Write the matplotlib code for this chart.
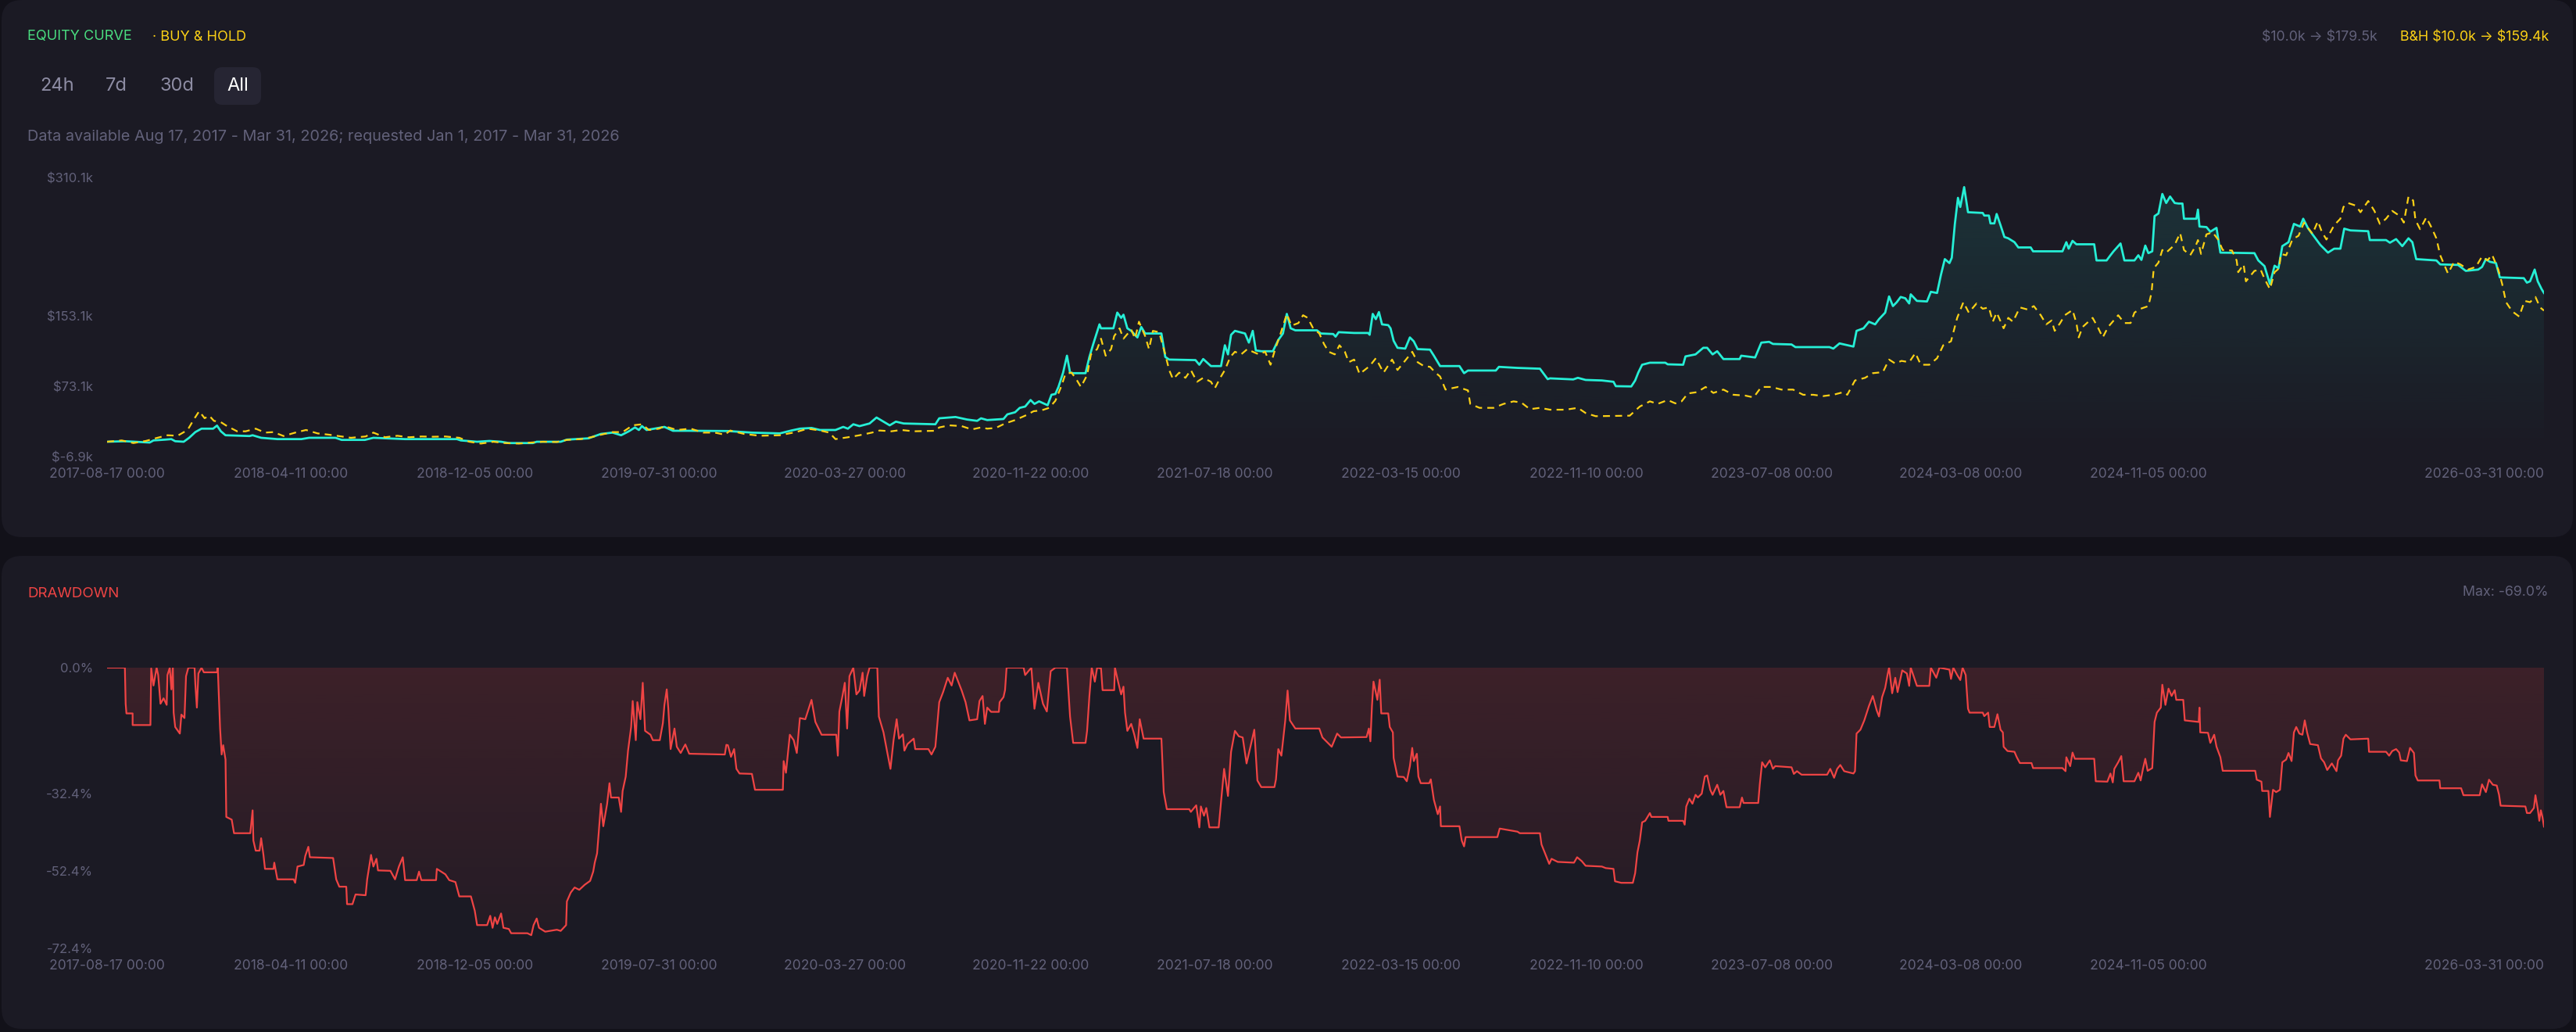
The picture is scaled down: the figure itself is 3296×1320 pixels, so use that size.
import numpy as np
import matplotlib
matplotlib.use('Agg')
import matplotlib.pyplot as plt
import matplotlib.colors as mcolors
import matplotlib.dates as mdates
from matplotlib.patches import FancyBboxPatch

plt.rcParams['font.family'] = ['Inter', 'DejaVu Sans']

START = np.datetime64('2017-08-17')
END = np.datetime64('2026-03-31')

# (days since start, equity in $k)
eq_points = [
    (0, 10.0), (23, 10.6), (55, 9.1), (60, 11.5), (75, 12.4), (83, 13.0), (88, 10.6), (99, 10.0),
    (106, 14.5), (114, 21.0), (122, 24.9), (137, 24.9), (142, 28.4), (147, 21.9), (153, 17.4),
    (184, 16.5), (188, 17.4), (199, 14.5), (220, 13.0), (251, 13.0), (261, 14.5), (295, 14.5),
    (303, 12.1), (333, 12.1), (344, 14.5), (385, 13.0), (452, 13.0), (457, 11.5), (478, 10.0),
    (494, 10.9), (509, 10.0), (519, 8.5), (550, 8.5), (555, 10.0), (586, 10.0), (594, 12.4),
    (622, 13.9), (638, 18.9), (653, 20.4), (664, 17.4), (674, 21.9), (682, 26.3), (687, 23.4),
    (691, 27.8), (697, 23.4), (720, 26.9), (731, 22.5), (752, 22.5), (802, 22.2), (833, 20.4),
    (869, 19.5), (884, 22.8), (895, 24.9), (910, 25.7), (921, 23.4), (941, 23.4), (951, 26.9),
    (957, 24.9), (964, 29.9), (972, 27.8), (985, 30.8), (994, 37.6), (1003, 32.9), (1011, 28.7),
    (1019, 32.9), (1029, 30.8), (1070, 29.9), (1075, 36.7), (1096, 38.2), (1111, 35.3),
    (1124, 33.8), (1129, 36.7), (1137, 34.7), (1158, 35.9), (1163, 41.2), (1173, 43.6),
    (1179, 48.6), (1186, 50.1), (1193, 57.5), (1198, 53.1), (1204, 56.0), (1215, 51.6),
    (1220, 63.5), (1225, 64.4), (1229, 72.4), (1235, 88.7), (1240, 108.0), (1244, 88.7),
    (1248, 88.1), (1264, 88.1), (1269, 106.6), (1274, 121.4), (1282, 143.7), (1284, 139.2),
    (1300, 139.2), (1305, 157.1), (1310, 151.1), (1313, 154.7), (1318, 139.2), (1323, 136.3),
    (1331, 128.8), (1336, 140.7), (1341, 133.3), (1362, 133.3), (1367, 106.6), (1372, 103.6),
    (1406, 103.0), (1411, 97.7), (1416, 104.2), (1426, 96.2), (1439, 96.2), (1444, 119.9),
    (1448, 109.5), (1452, 131.8), (1457, 136.3), (1470, 133.3), (1475, 122.9), (1480, 136.3),
    (1484, 114.0), (1491, 113.1), (1506, 113.1), (1513, 125.9), (1519, 133.3), (1524, 155.6),
    (1529, 139.2), (1535, 136.9), (1563, 136.9), (1568, 133.3), (1584, 132.7), (1587, 129.7),
    (1591, 134.8), (1611, 133.9), (1629, 133.9), (1631, 131.8), (1635, 155.6), (1639, 149.6),
    (1643, 157.7), (1647, 143.7), (1655, 142.8), (1658, 139.2), (1662, 125.0), (1667, 117.0),
    (1677, 116.1), (1683, 128.8), (1688, 124.4), (1693, 115.5), (1709, 114.9), (1714, 108.0),
    (1722, 96.2), (1747, 96.2), (1753, 88.1), (1758, 91.1), (1794, 91.1), (1798, 95.3),
    (1822, 94.1), (1851, 93.2), (1856, 87.2), (1861, 81.3), (1864, 82.2), (1894, 81.0),
    (1900, 82.8), (1910, 80.4), (1931, 79.8), (1946, 78.3), (1949, 73.3), (1969, 73.0),
    (1974, 79.8), (1978, 88.7), (1983, 97.7), (1993, 100.0), (2013, 100.0), (2016, 98.2),
    (2036, 97.7), (2039, 107.2), (2052, 109.5), (2062, 117.0), (2067, 117.0), (2074, 109.5),
    (2080, 113.1), (2088, 104.2), (2109, 104.2), (2111, 108.0), (2129, 106.0), (2137, 122.9),
    (2147, 123.8), (2152, 121.4), (2176, 120.8), (2181, 117.8), (2225, 117.8), (2230, 116.1),
    (2238, 122.0), (2256, 118.4), (2260, 136.3), (2269, 139.2), (2276, 146.7), (2284, 143.7),
    (2289, 149.6), (2297, 157.1), (2302, 175.5), (2307, 164.5), (2312, 169.0), (2317, 174.9),
    (2323, 173.4), (2328, 167.5), (2330, 177.9), (2338, 170.4), (2351, 169.8), (2356, 180.8),
    (2364, 179.4), (2369, 200.1), (2374, 218.0), (2380, 213.5), (2383, 219.5), (2387, 258.1),
    (2391, 287.8), (2394, 277.4), (2399, 300.0), (2404, 271.4), (2423, 270.6), (2425, 267.6),
    (2431, 267.6), (2433, 258.7), (2438, 258.7), (2441, 269.4), (2446, 256.6), (2451, 243.2),
    (2456, 241.7), (2464, 237.3), (2469, 231.3), (2485, 231.3), (2488, 226.9), (2526, 226.9),
    (2531, 237.3), (2534, 229.9), (2539, 238.8), (2544, 234.9), (2567, 234.9), (2570, 216.5),
    (2583, 216.5), (2588, 222.4), (2592, 226.9), (2601, 235.8), (2606, 216.5), (2619, 216.5),
    (2624, 222.4), (2628, 217.1), (2633, 233.4), (2637, 224.8), (2642, 226.9), (2645, 267.0),
    (2650, 270.0), (2655, 292.2), (2660, 281.9), (2665, 289.3), (2671, 281.9), (2676, 281.3),
    (2681, 281.3), (2683, 264.0), (2699, 264.0), (2701, 274.4), (2703, 255.1), (2712, 254.5),
    (2717, 249.2), (2725, 253.6), (2730, 225.4), (2774, 224.8), (2779, 216.5), (2787, 210.0),
    (2794, 189.7), (2800, 210.5), (2805, 207.6), (2810, 232.8), (2818, 237.3), (2825, 258.1),
    (2833, 255.1), (2837, 264.0), (2843, 253.6), (2849, 246.2), (2859, 234.3), (2869, 225.4),
    (2877, 229.9), (2885, 229.9), (2890, 252.7), (2898, 250.7), (2921, 249.8), (2923, 239.7),
    (2944, 239.7), (2949, 236.7), (2957, 240.8), (2965, 232.8), (2973, 241.7), (2978, 237.3),
    (2983, 218.0), (3009, 216.5), (3014, 212.0), (3037, 211.4), (3047, 204.6), (3063, 206.1),
    (3068, 209.1), (3073, 218.0), (3078, 215.0), (3086, 213.5), (3091, 197.2), (3122, 196.3),
    (3126, 191.2), (3130, 192.7), (3136, 206.1), (3140, 192.7), (3145, 183.8), (3148, 179.5),
]

# (days since start, buy & hold in $k)
bh_points = [
    (0, 10.0), (19, 11.5), (34, 8.5), (50, 10.9), (65, 14.5), (78, 17.4), (91, 16.8), (104, 23.4),
    (112, 35.3), (119, 44.8), (126, 36.8), (132, 39.7), (138, 33.8), (147, 32.3), (155, 27.8),
    (168, 21.9), (179, 21.9), (192, 24.9), (204, 20.4), (215, 21.0), (228, 16.5), (243, 20.4),
    (257, 23.4), (272, 19.5), (287, 18.0), (303, 16.0), (315, 14.5), (334, 16.0), (344, 20.4),
    (359, 15.1), (375, 16.8), (390, 15.1), (406, 16.0), (421, 15.7), (437, 16.0), (455, 14.5),
    (468, 10.0), (483, 7.9), (499, 10.0), (514, 8.5), (532, 7.9), (548, 9.1), (563, 10.0),
    (581, 9.7), (594, 12.1), (612, 13.0), (625, 15.1), (638, 18.0), (653, 21.0), (666, 21.0),
    (679, 28.7), (691, 29.9), (700, 23.4), (713, 24.9), (720, 27.8), (736, 23.4), (754, 24.9),
    (770, 20.4), (785, 20.4), (798, 18.0), (805, 22.8), (823, 18.9), (843, 16.8), (869, 17.4),
    (890, 21.0), (905, 24.9), (921, 22.8), (933, 20.4), (941, 13.0), (957, 15.1), (972, 17.4),
    (988, 20.4), (998, 22.8), (1013, 21.9), (1026, 23.4), (1042, 21.9), (1070, 22.5),
    (1075, 26.3), (1088, 28.7), (1104, 27.8), (1117, 24.0), (1129, 26.3), (1137, 24.9),
    (1148, 25.7), (1160, 30.8), (1173, 34.7), (1186, 39.7), (1197, 44.8), (1207, 45.7),
    (1217, 48.6), (1225, 56.6), (1233, 73.9), (1238, 87.2), (1246, 88.7), (1253, 79.8),
    (1258, 72.4), (1266, 85.8), (1271, 109.5), (1279, 115.5), (1284, 127.4), (1290, 108.0),
    (1297, 115.5), (1301, 130.3), (1308, 139.2), (1313, 127.4), (1323, 137.8), (1328, 127.4),
    (1333, 146.7), (1341, 130.3), (1346, 115.5), (1351, 136.3), (1359, 134.8), (1367, 109.5),
    (1372, 91.7), (1377, 81.3), (1385, 88.7), (1393, 82.8), (1400, 91.7), (1408, 78.3),
    (1416, 82.8), (1426, 78.3), (1431, 70.9), (1438, 82.8), (1444, 91.7), (1451, 106.6),
    (1457, 112.5), (1465, 109.5), (1473, 115.5), (1480, 112.5), (1488, 109.5), (1496, 112.5),
    (1503, 97.7), (1509, 115.5), (1516, 133.3), (1524, 155.6), (1530, 142.2), (1539, 145.2),
    (1545, 154.1), (1551, 151.1), (1558, 139.2), (1566, 133.3), (1572, 121.4), (1578, 112.5),
    (1586, 109.5), (1592, 119.9), (1599, 112.5), (1604, 100.6), (1611, 103.6), (1618, 87.2),
    (1631, 96.2), (1639, 105.1), (1649, 88.7), (1660, 103.6), (1667, 91.7), (1678, 103.6),
    (1686, 112.5), (1693, 100.6), (1701, 96.2), (1709, 95.3), (1716, 88.7), (1722, 84.3),
    (1729, 69.4), (1745, 72.4), (1758, 68.5), (1761, 53.1), (1773, 48.6), (1791, 48.6),
    (1804, 53.1), (1817, 56.0), (1827, 54.6), (1838, 47.1), (1851, 48.6), (1864, 46.5),
    (1884, 46.5), (1900, 48.6), (1910, 42.7), (1923, 39.1), (1967, 39.7), (1980, 50.1),
    (1993, 56.0), (2003, 53.1), (2016, 57.5), (2026, 53.7), (2034, 56.0), (2042, 65.0),
    (2054, 66.5), (2065, 72.4), (2075, 65.6), (2088, 69.4), (2101, 63.5), (2116, 62.6),
    (2127, 60.5), (2137, 72.4), (2150, 72.4), (2163, 69.4), (2178, 69.4), (2191, 63.5),
    (2204, 63.5), (2217, 62.0), (2230, 63.5), (2243, 66.5), (2248, 63.5), (2258, 79.8),
    (2271, 82.8), (2281, 88.1), (2294, 89.3), (2302, 103.6), (2310, 99.1), (2318, 102.1),
    (2328, 100.6), (2336, 111.0), (2343, 97.7), (2354, 97.7), (2364, 105.1), (2372, 119.9),
    (2382, 124.4), (2390, 151.1), (2398, 169.0), (2405, 157.1), (2415, 167.5), (2423, 161.5),
    (2431, 163.0), (2436, 146.7), (2441, 157.1), (2450, 139.2), (2456, 151.1), (2462, 146.7),
    (2471, 163.0), (2481, 160.6), (2489, 164.5), (2498, 154.1), (2505, 143.7), (2512, 148.1),
    (2516, 136.3), (2523, 145.2), (2529, 154.1), (2539, 160.0), (2544, 145.2), (2547, 128.8),
    (2552, 140.7), (2565, 151.1), (2572, 139.8), (2578, 128.8), (2585, 140.7), (2598, 154.1),
    (2606, 145.2), (2614, 145.2), (2619, 157.1), (2627, 161.5), (2637, 164.5), (2641, 179.4),
    (2644, 207.6), (2650, 214.1), (2655, 228.4), (2660, 225.4), (2671, 234.3), (2678, 247.7),
    (2683, 228.4), (2691, 222.4), (2698, 232.8), (2701, 239.7), (2705, 223.9), (2712, 246.2),
    (2720, 248.6), (2727, 240.3), (2733, 228.4), (2745, 227.8), (2751, 216.5), (2753, 203.1),
    (2760, 212.0), (2763, 192.7), (2774, 204.6), (2782, 206.1), (2787, 195.7), (2794, 183.8),
    (2800, 203.1), (2806, 207.6), (2808, 223.9), (2815, 222.4), (2823, 240.3), (2831, 244.7),
    (2838, 259.6), (2843, 253.6), (2849, 246.8), (2856, 261.1), (2861, 249.2), (2867, 240.3),
    (2877, 256.6), (2885, 264.0), (2889, 277.4), (2895, 281.9), (2905, 278.9), (2911, 271.4),
    (2921, 284.2), (2929, 272.9), (2936, 258.1), (2944, 264.0), (2952, 272.9), (2962, 267.0),
    (2967, 259.6), (2973, 289.3), (2979, 284.8), (2982, 262.5), (2988, 252.1), (2996, 265.5),
    (3003, 253.6), (3009, 241.7), (3014, 222.4), (3019, 212.0), (3024, 201.6), (3032, 215.0),
    (3040, 212.0), (3050, 206.1), (3060, 209.1), (3068, 221.0), (3075, 216.5), (3081, 223.0),
    (3089, 206.1), (3094, 189.7), (3099, 169.0), (3107, 158.5), (3116, 152.6), (3123, 170.4),
    (3130, 169.0), (3137, 174.9), (3143, 163.0), (3148, 159.4),
]

# (days since start, drawdown in %)
dd_points = [
    (0, 0.0), (23, 0.0), (24, -9.3), (25, -11.8), (33, -11.8), (33, -14.8), (56, -14.8),
    (57, -0.2), (60, -4.6), (64, 0.0), (66, -1.9), (69, -9.3), (73, -7.9), (77, -9.6), (78, -1.9),
    (81, 0.0), (83, -5.6), (85, 0.0), (86, -11.6), (88, -15.3), (94, -17.0), (96, -12.1),
    (100, -13.0), (102, -2.2), (105, 0.0), (113, 0.0), (114, -4.2), (116, -10.3), (118, -1.5),
    (122, 0.0), (125, -1.2), (142, -1.2), (143, 0.0), (144, -5.2), (146, -15.7), (148, -22.4),
    (150, -20.0), (153, -23.7), (154, -38.5), (161, -39.2), (164, -42.7), (185, -42.7),
    (188, -36.8), (189, -44.6), (192, -47.2), (197, -47.2), (199, -44.0), (202, -48.3),
    (204, -51.9), (215, -51.9), (216, -50.3), (220, -54.6), (241, -54.6), (243, -55.5),
    (246, -51.3), (254, -50.9), (256, -48.6), (260, -46.2), (262, -48.9), (292, -49.1),
    (296, -54.6), (300, -56.5), (309, -56.5), (310, -61.0), (317, -61.0), (321, -58.5),
    (334, -58.7), (336, -54.6), (341, -48.3), (344, -51.3), (348, -49.3), (350, -52.3),
    (366, -52.4), (372, -54.6), (377, -51.3), (382, -48.9), (385, -54.8), (400, -54.8),
    (403, -52.6), (406, -54.8), (425, -54.8), (426, -51.9), (437, -53.3), (442, -54.8),
    (450, -55.3), (455, -59.0), (470, -59.0), (475, -62.7), (478, -66.4), (491, -66.4),
    (495, -64.0), (498, -67.1), (501, -64.4), (504, -66.1), (509, -63.4), (512, -67.1),
    (519, -67.4), (522, -68.5), (543, -68.5), (548, -69.0), (551, -66.4), (555, -64.7),
    (558, -67.1), (566, -68.1), (581, -67.6), (586, -67.9), (593, -66.4), (594, -60.3),
    (599, -58.0), (604, -56.7), (610, -57.3), (617, -56.0), (624, -55.0), (628, -52.6),
    (630, -50.3), (633, -47.9), (635, -42.9), (638, -35.1), (641, -40.9), (646, -35.1),
    (649, -29.8), (651, -33.5), (661, -33.5), (664, -37.2), (666, -31.8), (670, -28.1),
    (673, -21.4), (677, -15.3), (679, -8.6), (683, -18.7), (685, -8.9), (689, -13.3),
    (692, -3.9), (695, -16.3), (702, -17.3), (705, -18.7), (714, -18.7), (718, -14.3),
    (720, -9.6), (723, -5.6), (725, -10.5), (728, -21.0), (733, -15.7), (736, -20.4),
    (741, -22.0), (747, -19.8), (752, -22.2), (798, -22.4), (800, -19.9), (802, -20.0),
    (806, -23.0), (810, -21.0), (813, -26.1), (817, -27.3), (833, -27.4), (837, -31.5),
    (873, -31.5), (874, -24.1), (877, -27.1), (882, -17.3), (887, -18.7), (891, -22.0),
    (895, -13.0), (902, -13.3), (910, -8.3), (915, -14.0), (923, -17.3), (942, -17.3),
    (944, -22.7), (946, -11.3), (950, -7.3), (953, -3.9), (956, -15.7), (959, -2.2), (964, 0.0),
    (968, -6.9), (972, -5.9), (976, -1.3), (978, -7.3), (982, -2.2), (985, 0.0), (995, 0.0),
    (997, -12.6), (1003, -16.7), (1008, -22.0), (1012, -26.1), (1016, -18.7), (1020, -13.3),
    (1023, -18.3), (1028, -17.2), (1030, -21.4), (1034, -19.7), (1042, -18.3), (1044, -21.0),
    (1061, -21.0), (1065, -22.4), (1070, -20.4), (1075, -8.9), (1080, -6.3), (1086, -2.6),
    (1091, -4.6), (1095, -1.3), (1104, -5.9), (1109, -8.9), (1114, -13.6), (1124, -13.3),
    (1127, -8.6), (1131, -7.3), (1134, -14.5), (1137, -10.3), (1142, -11.4), (1152, -11.4),
    (1153, -8.9), (1158, -7.6), (1160, -5.8), (1162, 0.0), (1184, 0.0), (1186, -1.9),
    (1194, 0.0), (1198, -10.6), (1203, -3.9), (1209, -9.3), (1214, -11.3), (1219, -0.9),
    (1225, 0.0), (1240, 0.0), (1244, -12.6), (1248, -19.4), (1264, -19.4), (1266, -16.3),
    (1269, -7.3), (1272, 0.0), (1276, -3.6), (1279, 0.0), (1284, -0.2), (1286, -5.8),
    (1301, -5.8), (1302, 0.0), (1306, -3.6), (1310, -6.9), (1313, -4.9), (1315, -11.6),
    (1318, -16.3), (1323, -14.5), (1327, -17.3), (1331, -20.7), (1334, -13.3), (1339, -18.3),
    (1362, -18.3), (1365, -32.1), (1369, -36.5), (1398, -36.5), (1400, -37.2), (1407, -35.5),
    (1411, -41.2), (1413, -35.8), (1417, -38.2), (1420, -36.2), (1424, -41.2), (1436, -41.2),
    (1439, -34.8), (1443, -26.1), (1448, -33.1), (1452, -21.7), (1457, -16.3), (1462, -17.7),
    (1467, -18.0), (1472, -24.7), (1477, -20.4), (1482, -16.0), (1486, -29.1), (1491, -30.8),
    (1508, -30.8), (1510, -28.8), (1513, -21.0), (1517, -22.7), (1522, -13.6), (1525, -5.9),
    (1528, -13.6), (1535, -15.7), (1566, -15.7), (1570, -18.0), (1582, -20.4), (1589, -17.0),
    (1594, -18.0), (1627, -17.9), (1630, -15.7), (1632, -19.0), (1634, -9.9), (1636, -3.6),
    (1641, -8.3), (1644, -3.1), (1646, -11.8), (1655, -11.8), (1657, -15.3), (1661, -16.7),
    (1662, -23.3), (1667, -28.1), (1675, -28.2), (1679, -29.3), (1683, -25.4), (1686, -20.7),
    (1688, -24.1), (1692, -22.2), (1694, -28.1), (1697, -29.8), (1708, -29.8), (1710, -28.8),
    (1714, -34.1), (1719, -37.8), (1722, -35.8), (1723, -40.9), (1747, -40.9), (1750, -44.6),
    (1753, -46.1), (1755, -43.7), (1796, -43.7), (1799, -41.5), (1822, -42.3), (1825, -42.7),
    (1851, -42.7), (1853, -45.6), (1857, -47.6), (1863, -50.6), (1866, -49.3), (1874, -50.1),
    (1895, -50.3), (1899, -48.9), (1905, -49.9), (1910, -51.1), (1931, -51.3), (1936, -51.7),
    (1946, -51.9), (1948, -55.1), (1956, -55.5), (1971, -55.5), (1974, -53.0), (1977, -47.6),
    (1980, -44.6), (1983, -39.9), (1987, -39.5), (1993, -37.5), (1995, -38.5), (2016, -38.5),
    (2017, -39.5), (2036, -39.5), (2038, -40.5), (2040, -35.8), (2044, -33.8), (2048, -35.1),
    (2052, -32.8), (2055, -33.5), (2060, -32.5), (2064, -28.1), (2067, -27.8), (2071, -31.5),
    (2074, -32.8), (2080, -30.2), (2084, -32.8), (2088, -31.8), (2092, -36.0), (2109, -36.0),
    (2112, -33.5), (2114, -34.9), (2133, -34.9), (2135, -30.1), (2138, -24.4), (2142, -25.7),
    (2148, -23.9), (2152, -26.1), (2155, -25.4), (2176, -25.7), (2179, -27.4), (2183, -26.7),
    (2189, -27.6), (2222, -27.6), (2226, -26.1), (2231, -28.4), (2235, -26.1), (2239, -25.1),
    (2244, -26.7), (2256, -27.3), (2258, -26.7), (2260, -17.0), (2265, -16.0), (2270, -13.6),
    (2276, -9.9), (2281, -7.3), (2286, -11.0), (2289, -12.6), (2293, -7.6), (2297, -5.2),
    (2300, -1.9), (2302, 0.0), (2306, -6.6), (2310, -2.6), (2313, -6.3), (2319, -0.7),
    (2325, -1.5), (2328, -4.7), (2330, 0.0), (2338, -4.7), (2354, -4.7), (2356, 0.0),
    (2363, -2.6), (2367, 0.0), (2380, -0.5), (2382, -2.9), (2385, 0.0), (2390, -1.9),
    (2394, -3.2), (2397, 0.0), (2401, -1.9), (2404, -10.6), (2406, -11.6), (2423, -11.6),
    (2425, -12.5), (2430, -11.6), (2432, -15.3), (2438, -15.3), (2442, -12.0), (2446, -16.0),
    (2449, -16.7), (2450, -20.4), (2455, -21.5), (2464, -21.7), (2467, -23.1), (2471, -24.6),
    (2486, -24.6), (2488, -25.9), (2526, -25.9), (2530, -26.7), (2531, -23.1), (2536, -25.4),
    (2539, -21.9), (2542, -23.5), (2567, -23.5), (2569, -29.3), (2584, -29.4), (2588, -27.3),
    (2591, -29.6), (2593, -26.1), (2598, -24.4), (2602, -22.8), (2605, -29.3), (2619, -29.3),
    (2624, -27.1), (2627, -29.1), (2630, -26.1), (2633, -23.5), (2636, -26.6), (2642, -25.9),
    (2645, -14.0), (2648, -11.6), (2653, -10.3), (2655, -4.4), (2659, -9.6), (2663, -5.4),
    (2667, -7.3), (2671, -5.8), (2673, -8.3), (2682, -8.3), (2684, -13.6), (2702, -14.0),
    (2703, -10.3), (2704, -16.7), (2714, -16.8), (2717, -19.4), (2722, -17.3), (2725, -20.4),
    (2730, -23.1), (2733, -26.6), (2775, -26.6), (2777, -28.9), (2783, -29.4), (2784, -31.8),
    (2792, -31.8), (2794, -38.5), (2798, -31.5), (2802, -32.1), (2807, -31.5), (2810, -24.4),
    (2815, -23.7), (2818, -22.0), (2822, -24.1), (2825, -16.7), (2828, -15.3), (2832, -17.0),
    (2836, -17.3), (2839, -13.6), (2842, -16.7), (2846, -19.7), (2856, -20.0), (2860, -23.4),
    (2864, -24.4), (2868, -26.4), (2874, -24.7), (2880, -26.7), (2882, -23.9), (2886, -22.7),
    (2889, -18.3), (2892, -17.3), (2898, -18.5), (2921, -18.3), (2922, -21.7), (2944, -21.7),
    (2948, -22.7), (2952, -21.5), (2957, -21.0), (2961, -21.9), (2963, -23.9), (2971, -24.1),
    (2975, -20.7), (2980, -22.0), (2982, -27.8), (2985, -29.1), (3013, -29.1), (3014, -31.1),
    (3041, -31.1), (3044, -32.9), (3065, -32.9), (3068, -30.1), (3073, -32.1), (3077, -28.9),
    (3082, -30.2), (3087, -30.4), (3090, -32.8), (3092, -35.6), (3124, -35.8), (3126, -37.5),
    (3130, -37.5), (3135, -36.2), (3137, -32.9), (3140, -36.5), (3142, -39.5), (3144, -36.8),
    (3146, -38.5), (3148, -41.0),
]

tick_dates = ['2017-08-17', '2018-04-11', '2018-12-05', '2019-07-31', '2020-03-27',
              '2020-11-22', '2021-07-18', '2022-03-15', '2022-11-10', '2023-07-08',
              '2024-03-08', '2024-11-05', '2026-03-31']
eq_ticks = [-6.9, 73.1, 153.1, 310.1]
dd_ticks = [-72.4, -52.4, -32.4, 0.0]

OUTER = '#121119'
PANEL = '#1b1a24'
CYAN = '#26efd6'
GOLD = '#fcd116'
RED = '#ef4444'
MUTED = '#62617a'


def to_dates(points):
    d = np.array([p[0] for p in points]).astype('timedelta64[D]')
    v = np.array([p[1] for p in points], dtype=float)
    return START + d, v


def grad_fill(ax, x, y, base, color, a_top, a_bot, ylo, yhi):
    coll = ax.fill_between(x, y, base, facecolor='none', edgecolor='none')
    path = coll.get_paths()[0]
    rgb = mcolors.to_rgb(color)
    img = np.zeros((256, 1, 4))
    img[:, 0, :3] = rgb
    img[:, 0, 3] = np.linspace(a_top, a_bot, 256)
    x0, x1 = mdates.date2num(START), mdates.date2num(END)
    im = ax.imshow(img, aspect='auto', extent=[x0, x1, ylo, yhi], origin='upper', zorder=1)
    im.set_clip_path(path, transform=ax.transData)


def style_axis(ax, ticks, labels):
    for s in ax.spines.values():
        s.set_visible(False)
    ax.set_facecolor('none')
    ax.set_xlim(START, END)
    ax.set_xticks([np.datetime64(t) for t in tick_dates])
    ax.set_xticklabels([t + ' 00:00' for t in tick_dates])
    ax.get_xticklabels()[-1].set_horizontalalignment('right')
    ax.set_yticks(ticks)
    ax.set_yticklabels(labels)
    ax.tick_params(axis='both', length=0, labelcolor=MUTED)
    ax.tick_params(axis='x', pad=10, labelsize=12.6)
    ax.tick_params(axis='y', pad=13, labelsize=12)


fig = plt.figure(figsize=(32.96, 13.2), dpi=100, facecolor=OUTER)

# background panels, drawn in pixel units
bg = fig.add_axes([0, 0, 1, 1], zorder=0)
bg.set_xlim(0, 3296)
bg.set_ylim(1320, 0)
bg.axis('off')
bg.add_patch(FancyBboxPatch((2, 0), 3290, 687, boxstyle='round,pad=0,rounding_size=26',
                            fc=PANEL, ec='none'))
bg.add_patch(FancyBboxPatch((2, 711), 3290, 605, boxstyle='round,pad=0,rounding_size=26',
                            fc=PANEL, ec='none'))

bg.text(35, 47, 'EQUITY CURVE', color='#4ade80', fontsize=13, va='center')
bg.text(195, 47, '· BUY & HOLD', color=GOLD, fontsize=13, va='center')
bg.text(3261, 48, 'B&H \\$10.0k → \\$159.4k', color=GOLD, fontsize=12.8, va='center', ha='right')
bg.text(3042, 48, '\\$10.0k → \\$179.5k', color=MUTED, fontsize=12.8, va='center', ha='right')

bg.add_patch(FancyBboxPatch((274, 86), 60, 48, boxstyle='round,pad=0,rounding_size=10',
                            fc='#262533', ec='none'))
for label, cx, col in [('24h', 73, '#8d8ca3'), ('7d', 149, '#8d8ca3'),
                       ('30d', 226, '#8d8ca3'), ('All', 304, '#ffffff')]:
    bg.text(cx, 110, label, color=col, fontsize=17, va='center', ha='center')

bg.text(35, 175, 'Data available Aug 17, 2017 - Mar 31, 2026; requested Jan 1, 2017 - Mar 31, 2026',
        color=MUTED, fontsize=14.3, va='center')

bg.text(35, 760, 'DRAWDOWN', color=RED, fontsize=13.5, va='center')
bg.text(3261, 757, 'Max: -69.0%', color=MUTED, fontsize=12.8, va='center', ha='right')

# equity curve panel
W = 3296.0
H = 1320.0
ax1 = fig.add_axes([137 / W, 1 - 584 / H, (3255 - 137) / W, (584 - 228) / H], zorder=2)
eq_x, eq_y = to_dates(eq_points)
bh_x, bh_y = to_dates(bh_points)
grad_fill(ax1, eq_x, eq_y, eq_ticks[0], CYAN, 0.12, 0.0, eq_ticks[0], eq_ticks[-1])
ax1.plot(eq_x, eq_y, color=CYAN, lw=2.0, zorder=3)
ax1.plot(bh_x, bh_y, color=GOLD, lw=1.6, ls=(0, (4, 3)), zorder=4)
ax1.set_ylim(eq_ticks[0], eq_ticks[-1])
style_axis(ax1, eq_ticks, ['\\$%.1fk' % t for t in eq_ticks])

# drawdown panel
ax2 = fig.add_axes([137 / W, 1 - 1213 / H, (3255 - 137) / W, (1213 - 854) / H], zorder=2)
dd_x, dd_y = to_dates(dd_points)
grad_fill(ax2, dd_x, dd_y, 0.0, RED, 0.16, 0.04, dd_ticks[0], dd_ticks[-1])
ax2.plot(dd_x, dd_y, color=RED, lw=1.6, zorder=3)
ax2.set_ylim(dd_ticks[0], dd_ticks[-1])
style_axis(ax2, dd_ticks, ['%.1f%%' % t for t in dd_ticks])

fig.savefig('out.png', dpi=100, facecolor=OUTER)
